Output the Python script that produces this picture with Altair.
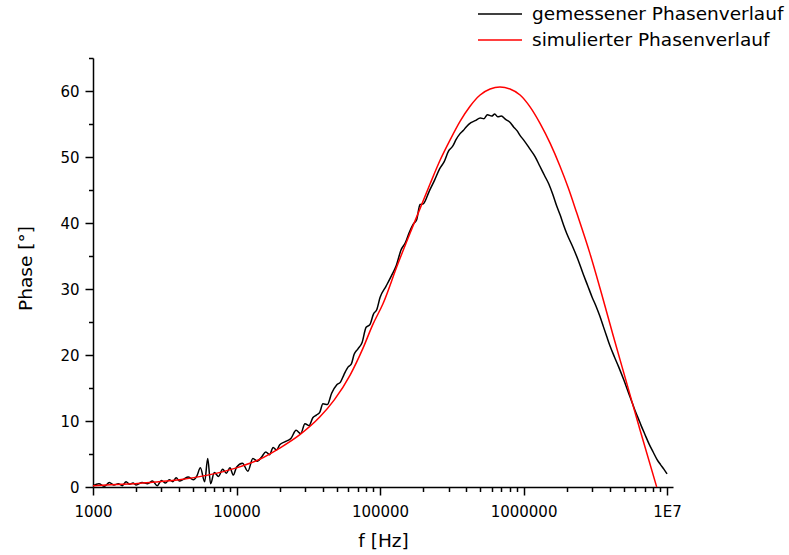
import altair as alt
import pandas as pd

# ---- data ----
black_f = [
    1000, 1100, 1200, 1300, 1400, 1500, 1600, 1700, 1800, 1900, 2000, 2200, 2400, 2600, 2800, 3000, 3200, 3400,
    3600, 3800, 4000, 4300, 4600, 5000, 5300, 5600, 6000, 6300, 6600, 7000, 7500, 8000, 8500, 9000, 9500,
    10000, 11000, 12000, 13000, 14000, 15000, 16000, 17000, 18000, 19000, 20000, 22000, 24000, 26000, 28000,
    30000, 32000, 34000, 36000, 38000, 40000, 43000, 46000, 50000, 53000, 56000, 60000, 63000, 66000, 70000,
    75000, 80000, 85000, 90000, 95000,
    100000, 110000, 120000, 130000, 140000, 150000, 160000, 170000, 180000, 190000, 200000, 220000, 240000,
    260000, 280000, 300000, 320000, 340000, 360000, 380000, 400000, 430000, 460000, 500000, 530000, 560000,
    600000, 630000, 660000, 700000, 750000, 800000, 850000, 900000, 950000,
    1000000, 1100000, 1200000, 1300000, 1400000, 1500000, 1600000, 1700000, 1800000, 1900000, 2000000,
    2200000, 2400000, 2600000, 2800000, 3000000, 3200000, 3400000, 3600000, 3800000, 4000000, 4300000,
    4600000, 5000000, 5300000, 5600000, 6000000, 6300000, 6600000, 7000000, 7500000, 8000000, 8500000,
    9000000, 9500000, 10000000,
]
black_phase = [
    0.2, 0.5, 0.1, 0.7, 0.3, 0.5, 0.2, 0.8, 0.4, 0.6, 0.3, 0.7, 0.5, 0.9, 0.2, 1.0, 0.6, 1.1,
    0.8, 1.4, 0.9, 1.2, 1.5, 1.1, 1.7, 2.9, 0.8, 4.3, 0.5, 2.2, 1.6, 2.7, 2.1, 2.9, 1.8,
    3.0, 3.6, 2.4, 4.3, 3.9, 4.6, 5.3, 4.9, 6.0, 5.6, 6.4, 6.9, 7.4, 8.6, 8.1,
    9.6, 9.3, 10.5, 10.9, 11.3, 12.6, 12.5, 14.2, 15.5, 15.9, 17.0, 18.2, 18.6, 20.1, 20.9,
    21.9, 24.2, 24.6, 26.2, 26.9,
    28.7, 30.4, 32.0, 33.6, 35.9, 37.0, 38.6, 39.8, 40.5, 42.8, 42.9, 44.8, 46.5,
    48.2, 49.3, 50.9, 51.6, 52.7, 53.5, 54.0, 54.6, 55.2, 55.5, 55.9, 55.8, 56.4,
    56.2, 56.5, 56.1, 56.2, 55.7, 55.3, 54.6, 54.0, 53.2,
    52.6, 51.3, 50.1, 48.6, 47.2, 45.9, 44.3, 42.6, 41.2, 39.7, 38.4,
    36.4, 34.4, 32.3, 30.5, 28.8, 27.4, 25.9, 24.3, 22.8, 21.4, 19.7,
    18.2, 16.2, 14.7, 13.3, 11.5, 10.4, 9.3, 8.0, 6.5, 5.3, 4.2,
    3.4, 2.7, 2.0,
]

red_f = [
    1000, 1600, 2500, 4000, 6300, 10000, 14500, 20000, 27500, 38000, 48000, 62000, 76000, 89000,
    105000, 132000, 170000, 223000, 262000, 308000, 361000, 424000, 498000, 585000, 685000, 805000,
    946000, 1110000, 1303000, 1531000, 1795000, 2051000, 2350000, 2900000, 3600000, 4230000, 5240000,
    6490000, 8470000,
]
red_phase = [
    0.2, 0.4, 0.7, 1.1, 1.8, 2.9, 4.2, 5.9, 7.9, 10.6, 13.2, 17.0, 21.0, 24.6,
    27.8, 33.6, 39.6, 45.9, 49.5, 52.6, 55.4, 57.7, 59.4, 60.3, 60.6, 60.3,
    59.4, 57.6, 55.1, 52.1, 48.6, 45.3, 41.5, 35.4, 28.3, 22.8, 15.7,
    8.6, 0.0,
]

series_names = ["gemessener Phasenverlauf", "simulierter Phasenverlauf"]
series_colors = ["#000000", "#ff0000"]

x_major = [1000, 10000, 100000, 1000000, 10000000]
x_minor = [m * d for d in [1000, 10000, 100000, 1000000] for m in range(2, 10)]
y_major = [0, 10, 20, 30, 40, 50, 60]
y_minor = [5, 15, 25, 35, 45, 55, 65]

df = pd.concat([
    pd.DataFrame({"f": black_f, "phase": black_phase, "series": series_names[0]}),
    pd.DataFrame({"f": red_f, "phase": red_phase, "series": series_names[1]}),
], ignore_index=True)

FONT = "DejaVu Sans"
W, H = 580, 429

xscale = alt.Scale(type="log", domain=[1000, 11000000], nice=False)
yscale = alt.Scale(domain=[0, 65], nice=False, zero=False)

common_axis = dict(domainColor="black", tickColor="black", labelColor="black", grid=False)

lines = alt.Chart(df).mark_line(strokeWidth=1.5, interpolate="monotone").encode(
    x=alt.X("f:Q", scale=xscale, axis=alt.Axis(
        orient="bottom", values=x_major, title="f [Hz]", tickSize=8, tickWidth=1.5, domainWidth=1.5,
        labelFont=FONT, labelFontSize=15, labelPadding=9,
        labelExpr="datum.value >= 10000000 ? '1E7' : format(datum.value, 'd')",
        labelFlush=False, labelOverlap=False,
        titleFont=FONT, titleFontSize=18.5, titleFontWeight="normal", titleColor="black",
        titleX=290, titleY=59, titleBaseline="alphabetic", **common_axis)),
    y=alt.Y("phase:Q", scale=yscale, axis=alt.Axis(
        orient="left", values=y_major, title="Phase [°]", tickSize=8, tickWidth=1.5, domainWidth=1.5,
        labelFont=FONT, labelFontSize=15, labelPadding=6, labelFlush=False, labelOverlap=False,
        titleFont=FONT, titleFontSize=18.5, titleFontWeight="normal", titleColor="black",
        titleAngle=270, titleX=-62, titleY=210, titleBaseline="alphabetic", titleAlign="center",
        **common_axis)),
    color=alt.Color("series:N", scale=alt.Scale(domain=series_names, range=series_colors),
                    legend=alt.Legend(title=None, orient="none", legendX=395, legendY=-56,
                                      symbolType="M-2,0H2", symbolSize=484, symbolStrokeWidth=1.5,
                                      labelFont=FONT, labelFontSize=18.5, labelColor="black",
                                      labelLimit=400, labelOffset=20, rowPadding=4, padding=0)),
)

minor = alt.Chart(df).mark_point(opacity=0).encode(
    x=alt.X("f:Q", scale=xscale, axis=alt.Axis(
        orient="bottom", values=x_minor, title=None, labels=False, domain=False,
        tickSize=4.5, tickWidth=1.5, tickColor="black", grid=False)),
    y=alt.Y("phase:Q", scale=yscale, axis=alt.Axis(
        orient="left", values=y_minor, title=None, labels=False, domain=False,
        tickSize=4.5, tickWidth=1.5, tickColor="black", grid=False)),
)

chart = alt.layer(lines, minor).resolve_axis(x="independent", y="independent").properties(
    width=W, height=H,
    padding={"left": 93, "top": 58, "right": 116, "bottom": 68},
    autosize=alt.AutoSizeParams(type="none"),
    background="white",
).configure_view(stroke=None)

chart.save("out.html", embed_options={"renderer": "svg", "actions": False})
